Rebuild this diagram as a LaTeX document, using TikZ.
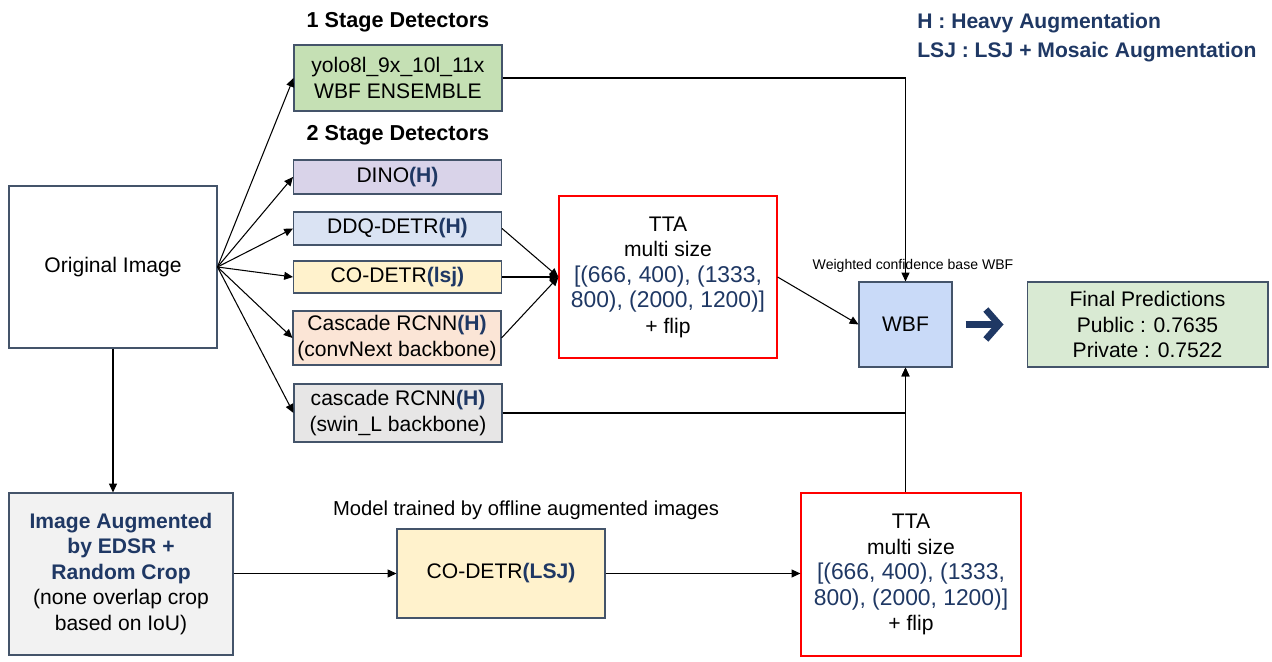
\documentclass[tikz,border=0pt]{standalone}
\usepackage{fontspec}
\setmainfont{Liberation Sans}
\usetikzlibrary{arrows.meta,calc}
\definecolor{navy}{HTML}{1F3864}
\definecolor{edge}{HTML}{44546A}
\definecolor{cyolo}{HTML}{C5E0B4}
\definecolor{cdino}{HTML}{D9D3E9}
\definecolor{cddq}{HTML}{DAE3F3}
\definecolor{cco}{HTML}{FFF2CC}
\definecolor{ccasc}{HTML}{FBE5D6}
\definecolor{cswin}{HTML}{E7E6E6}
\definecolor{cwbf}{HTML}{C9DAF8}
\definecolor{cfinal}{HTML}{D9EAD3}
\definecolor{caug}{HTML}{F2F2F2}
\newcommand\mainfs{\fontsize{12}{14.5}\selectfont}
\newcommand\nb[1]{\textbf{\textcolor{navy}{#1}}}
\newcommand\numl[1]{{\fontsize{13}{14.5}\selectfont\textcolor{navy}{#1}}}
\tikzset{
  box/.style={draw=edge, line width=0.6pt, minimum width=4.16cm, inner sep=1pt, align=center, font=\mainfs},
  redbox/.style={draw=red, line width=0.7pt, inner sep=1pt, align=center, font=\mainfs},
  arr/.style={-{Triangle[length=5pt,width=4.5pt]}, line width=0.6pt},
  ttl/.style={font=\fontsize{12.3}{14.5}\selectfont\bfseries, inner sep=0pt},
  legend/.style={font=\fontsize{12}{15}\selectfont\bfseries, text=navy, anchor=west, inner sep=0pt, align=left},
}
\begin{document}
\begin{tikzpicture}[x=0.02cm,y=-0.02cm]
\path[use as bounding box, fill=white] (0,0) rectangle (1272,662);

% titles
\node[ttl] (t1) at (398,22) {1 Stage Detectors};
\node[ttl] (t2) at (398,135) {2 Stage Detectors};
\node[legend] (leg1) at (917,23) {H : Heavy Augmentation};
\node[legend] (leg2) at (917,52) {LSJ : LSJ + Mosaic Augmentation};

% boxes
\node[box, minimum height=3.24cm, fill=white] (orig) at (113,267) {Original Image};
\node[box, minimum height=1.32cm, fill=cyolo] (yolo) at (398,78) {yolo8l\_9x\_10l\_11x\\WBF ENSEMBLE};
\node[box, minimum height=0.68cm, fill=cdino] (dino) at (397.5,177) {DINO\nb{(H)}};
\node[box, minimum height=0.66cm, fill=cddq] (ddq) at (397.5,228.5) {DDQ-DETR\nb{(H)}};
\node[box, minimum height=0.64cm, fill=cco] (co) at (397.5,277) {CO-DETR\nb{(lsj)}};
\node[box, minimum height=1.08cm, fill=ccasc] (casc) at (397,338) {Cascade RCNN\nb{(H)}\\(convNext backbone)};
\node[box, minimum height=1.16cm, fill=cswin] (swin) at (398,413) {cascade RCNN\nb{(H)}\\(swin\_L backbone)};

\node[redbox, minimum width=4.36cm, minimum height=3.24cm] (tta1) at (668,277)
  {TTA\\multi size\\\numl{[(666, 400), (1333,}\\\numl{800), (2000, 1200)]}\\+ flip};

\node[box, minimum width=1.86cm, minimum height=1.70cm, fill=cwbf] (wbf) at (905.5,324.5) {WBF};
\node[font=\fontsize{8}{10}\selectfont, inner sep=0pt] (wlab) at (913,266) {Weighted confidence base WBF};
\node[box, minimum width=4.82cm, minimum height=1.70cm, fill=cfinal] (final) at (1147.5,324.5)
  {Final Predictions\\Public : 0.7635\\Private : 0.7522};

\node[box, minimum width=4.48cm, minimum height=3.24cm, fill=caug] (aug) at (121,574)
  {\nb{Image Augmented}\\\nb{by EDSR +}\\\nb{Random Crop}\\(none overlap crop\\based on IoU)};
\node[font=\fontsize{11.5}{14}\selectfont, inner sep=0pt] (mlab) at (526,510) {Model trained by offline augmented images};
\node[box, minimum height=1.78cm, fill=cco] (lsj) at (501,573.5) {CO-DETR\nb{(LSJ)}};
\node[redbox, minimum width=4.40cm, minimum height=3.26cm] (tta2) at (911,574.5)
  {TTA\\multi size\\\numl{[(666, 400), (1333,}\\\numl{800), (2000, 1200)]}\\+ flip};

% fan-out
\foreach \n in {yolo,dino,ddq,co,casc,swin}
  \draw[arr] (orig.east) -- (\n.west);
% into TTA
\foreach \n in {ddq,co,casc}
  \draw[arr] (\n.east) -- (tta1.west);
\draw[arr] (tta1.east) -- (wbf.west);
\draw[arr] (yolo.east) -| (wbf.north);
\draw[arr] (swin.east) -| (wbf.south);
\draw[arr] (wbf.south |- tta2.north) -- (wbf.south);
% bottom row
\draw[arr] (orig.south) -- (orig.south |- aug.north);
\draw[arr] (aug.east |- lsj.west) -- (lsj.west);
\draw[arr] (lsj.east) -- (tta2.west |- lsj.east);
% big arrow
\coordinate (ba1) at ($(wbf.east)+(13,0)$);
\coordinate (ba2) at ($(final.west)+(-23,0)$);
\draw[navy, line width=3.8pt, -{Straight Barb[length=7.5pt,width=17pt]}] (ba1) -- (ba2);
\end{tikzpicture}
\end{document}
